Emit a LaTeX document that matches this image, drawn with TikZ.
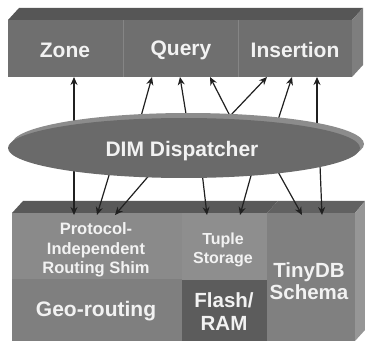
\documentclass[tikz,border=0pt]{standalone}
\usepackage{fontspec}
\setmainfont{Liberation Sans}
\usetikzlibrary{shapes.geometric,arrows.meta}
\definecolor{frontA}{HTML}{6F6F6F}
\definecolor{topA}{HTML}{565656}
\definecolor{sideA}{HTML}{7E7E7E}
\definecolor{topB}{HTML}{595959}
\definecolor{topC}{HTML}{616161}
\definecolor{sideB}{HTML}{969696}
\definecolor{shimC}{HTML}{8A8A8A}
\definecolor{geoC}{HTML}{7F7F7F}
\definecolor{tupleC}{HTML}{8E8E8E}
\definecolor{flashC}{HTML}{5C5C5C}
\definecolor{tinyC}{HTML}{808080}
\definecolor{dimC}{HTML}{6A6A6A}
\definecolor{rimC}{HTML}{8C8C8C}
\definecolor{txtC}{HTML}{F2F2F2}
\definecolor{arrC}{HTML}{202020}
\definecolor{divC}{HTML}{858585}
\begin{document}
\begin{tikzpicture}[x=1pt,y=-1pt,
  box/.style={anchor=north west,inner sep=0pt,outer sep=0pt},
  lbl/.style={inner sep=0pt,text=txtC,align=center},
  big/.style={font=\bfseries\fontsize{21}{23}\selectfont},
  small/.style={font=\bfseries\fontsize{16.5}{19.5}\selectfont},
  conn/.style={draw=arrC,line width=1.2pt,-{Stealth[length=8pt,width=7pt]}}]
\useasboundingbox (0,0) rectangle (365,345);
% ---------- top block ----------
\fill[topA] (8,20) -- (19,8) -- (363,8) -- (352,20) -- cycle;
\fill[sideA] (352,20) -- (363,8) -- (363,65) -- (352,77) -- cycle;
\node[box,fill=frontA,minimum width=115pt,minimum height=57pt] (zone) at (8,20) {};
\node[box,fill=frontA,minimum width=115pt,minimum height=57pt] (query) at (123,20) {};
\node[box,fill=frontA,minimum width=114pt,minimum height=57pt] (ins) at (238,20) {};
\draw[divC,line width=0.8pt] (zone.north east) -- (zone.south east);
\draw[divC,line width=0.8pt] (query.north east) -- (query.south east);
\node[lbl,big] (zoneT) at (65,50) {Zone};
\node[lbl,big] (queryT) at (181,50) {Query};
\node[lbl,big] (insT) at (295,50) {Insertion};
% ---------- bottom block ----------
\fill[topB] (12,213) -- (23,201) -- (278,201) -- (267,213) -- cycle;
\fill[topC] (267,213) -- (278,201) -- (365,201) -- (355,213) -- cycle;
\fill[sideB] (355,213) -- (365,201) -- (365,330) -- (355,341) -- cycle;
\node[box,fill=shimC,minimum width=170pt,minimum height=66pt] (shim) at (12,213) {};
\node[box,fill=geoC,minimum width=170pt,minimum height=62pt] (geo) at (12,279) {};
\node[box,fill=tupleC,minimum width=85pt,minimum height=67pt] (tuple) at (182,213) {};
\node[box,fill=flashC,minimum width=85pt,minimum height=61pt] (flash) at (182,280) {};
\node[box,fill=tinyC,minimum width=88pt,minimum height=128pt] (tiny) at (267,213) {};
\node[lbl,small] (shimT) at (96,250) {Protocol-\\Independent\\Routing Shim};
\node[lbl,big] (geoT) at (96,311) {Geo-routing};
\node[lbl,font=\bfseries\fontsize{16}{19.5}\selectfont] (tupleT) at (223,250) {Tuple\\Storage};
\node[lbl,font=\bfseries\fontsize{20.5}{23}\selectfont] (flashT) at (224,312) {Flash/\\RAM};
\node[lbl,font=\bfseries\fontsize{20.5}{22.5}\selectfont] (tinyT) at (309,281) {TinyDB\\Schema};
% ---------- connector coordinates ----------
\coordinate (u1s) at (74,130);  \coordinate (u1e) at (74,77);
\coordinate (u2s) at (140,120); \coordinate (u2e) at (152,77);
\coordinate (u3s) at (187,120); \coordinate (u3e) at (180,77);
\coordinate (u4s) at (230,116); \coordinate (u4e) at (210,77);
\coordinate (u5e) at (267,77);
\coordinate (u6s) at (278,120); \coordinate (u6e) at (292,77);
\coordinate (u7s) at (317,130); \coordinate (u7e) at (317,77);
\coordinate (d1s) at (74,165);  \coordinate (d1e) at (74,215);
\coordinate (d2s) at (110,172); \coordinate (d2e) at (97,215);
\coordinate (d3s) at (152,172); \coordinate (d3e) at (115,215);
\coordinate (d4s) at (202,172); \coordinate (d4e) at (207,215);
\coordinate (d5s) at (252,172); \coordinate (d5e) at (240,215);
\coordinate (d6s) at (277,170); \coordinate (d6e) at (302,215);
\coordinate (d7s) at (320,165); \coordinate (d7e) at (322,215);
\foreach \a in {u1,u2,u3,u4,u6,u7,d1,d2,d3,d4,d5,d6,d7}{
  \draw[conn] (\a s) -- (\a e);
}
\draw[conn] (u4s) -- (u5e);
% ---------- dispatcher ----------
\node[ellipse,fill=rimC,minimum width=352pt,minimum height=62pt,inner sep=0pt] (dimrim) at (188,144) {};
\node[ellipse,fill=dimC,minimum width=352pt,minimum height=60pt,inner sep=0pt] (dim) at (184,148) {};
\node[lbl,font=\bfseries\fontsize{21}{23}\selectfont] (dimT) at (182,151) {DIM Dispatcher};
\end{tikzpicture}
\end{document}
